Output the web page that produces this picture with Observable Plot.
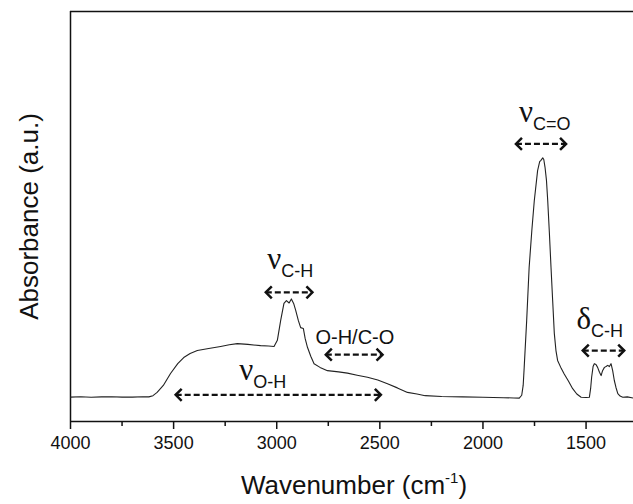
<!DOCTYPE html>
<html>
<head>
<meta charset="utf-8">
<script src="https://cdn.jsdelivr.net/npm/d3@7"></script>
<script src="https://cdn.jsdelivr.net/npm/@observablehq/plot@0.6"></script>
<style>
  html, body { margin: 0; padding: 0; background: #fff; }
  #chart { width: 633px; height: 504px; }
</style>
</head>
<body>
<div id="chart"></div>
<script>
// FTIR spectrum
const wavenumber = [4000, 3950, 3900, 3850, 3800, 3750, 3700, 3650, 3620, 3600, 3580, 3550, 3515, 3480, 3451, 3420, 3385, 3330, 3272, 3230, 3191, 3140, 3078, 3040, 3013, 2997, 2981, 2965, 2953, 2940, 2929, 2918, 2908, 2895, 2884, 2871, 2862, 2851, 2835, 2819, 2790, 2754, 2700, 2657, 2610, 2560, 2510, 2463, 2415, 2366, 2320, 2280, 2200, 2100, 2000, 1950, 1900, 1850, 1824, 1812, 1805, 1800, 1788, 1776, 1763, 1751, 1735, 1725, 1719, 1710, 1705, 1699, 1692, 1686, 1678, 1670, 1662, 1654, 1646, 1638, 1620, 1606, 1585, 1565, 1545, 1524, 1500, 1484, 1478, 1473, 1466, 1460, 1452, 1444, 1435, 1427, 1420, 1411, 1403, 1395, 1387, 1379, 1371, 1363, 1355, 1346, 1335, 1322, 1300, 1270];
const absorbance = [5.95, 6.05, 5.9, 6.0, 6.05, 5.95, 5.95, 6.05, 6.0, 6.3, 7.1, 8.8, 11.7, 14.1, 15.6, 16.6, 17.3, 17.8, 18.3, 18.7, 19.0, 18.8, 18.5, 18.4, 18.3, 19.8, 24.6, 28.8, 29.5, 28.9, 29.9, 28.8, 27.1, 24.6, 22.9, 22.7, 20.2, 18.1, 15.9, 14.1, 13.2, 12.4, 12.1, 11.8, 11.3, 10.8, 10.1, 9.2, 8.2, 7.1, 6.7, 6.3, 6.1, 6.0, 5.9, 5.85, 5.8, 5.75, 5.7, 6.4, 8.8, 13.2, 24.6, 37.6, 46.6, 53.9, 61.2, 63.4, 63.7, 64.3, 63.9, 62.0, 58.8, 53.9, 46.1, 37.6, 29.5, 21.5, 17.3, 14.9, 12.9, 11.6, 9.8, 8.0, 6.7, 5.9, 5.85, 5.9, 8.0, 10.8, 13.4, 14.1, 13.9, 13.2, 12.0, 11.2, 12.4, 13.2, 13.4, 13.7, 13.4, 14.1, 12.4, 10.0, 8.3, 6.8, 6.2, 5.9, 6.0, 5.7];

// band assignments
const bandGreek = ["ν", "ν", "ν", "δ"];
const bandSub = ["O-H", "C-H", "C=O", "C-H"];
const bandLabelWn = [3114, 2978, 1757, 1476];
const bandLabelAbs = [8.05, 35.2, 71.0, 20.5];

const otherLabel = ["O-H/C-O"];
const otherLabelWn = [2621];
const otherLabelAbs = [19.0];

// double-headed range arrows
const rangeFrom = [3490, 3053, 2762, 1840, 1516];
const rangeTo = [2495, 2827, 2487, 1597, 1315];
const rangeAbs = [6.5, 31.5, 16.3, 67.7, 17.3];

const xMajorTicks = [4000, 3500, 3000, 2500, 2000, 1500];
const xMinorTicks = [3750, 3250, 2750, 2250, 1750];

const spectrum = wavenumber.map((w, i) => ({w, a: absorbance[i]}));
const bands = bandGreek.map((g, i) => ({g, s: bandSub[i], w: bandLabelWn[i], a: bandLabelAbs[i]}));
const others = otherLabel.map((t, i) => ({t, w: otherLabelWn[i], a: otherLabelAbs[i]}));
const ranges = rangeFrom.map((f, i) => ({x1: f, x2: rangeTo[i], y: rangeAbs[i]}));

const chevronRight = {draw(ctx) { ctx.moveTo(-6, -6); ctx.lineTo(0, 0); ctx.lineTo(-6, 6); }};
const chevronLeft = {draw(ctx) { ctx.moveTo(6, -6); ctx.lineTo(0, 0); ctx.lineTo(6, 6); }};

const ink = "#111";
const sans = "'Liberation Sans', Arial, Helvetica, sans-serif";
const serif = "'Liberation Serif', 'Times New Roman', serif";

const chart = Plot.plot({
  width: 633,
  height: 504,
  marginLeft: 70,
  marginRight: 0,
  marginTop: 11,
  marginBottom: 83,
  style: {fontFamily: sans, background: "#fff", color: ink, overflow: "visible"},
  x: {domain: [4000, 1270]},
  y: {domain: [0, 100], axis: null},
  marks: [
    Plot.axisX({ticks: xMajorTicks, tickSize: 8, tickPadding: 7, fontSize: 18, label: null, tickFormat: d => String(d), strokeWidth: 1.5}),
    Plot.axisX({ticks: xMinorTicks, tickSize: 5, tickFormat: () => "", label: null, strokeWidth: 1.5}),
    Plot.ruleY([0], {stroke: ink, strokeWidth: 1.5}),
    Plot.ruleY([100], {stroke: ink, strokeWidth: 1.5}),
    Plot.ruleX([4000], {stroke: ink, strokeWidth: 1.5}),
    Plot.line(spectrum, {x: "w", y: "a", stroke: "#222", strokeWidth: 1.1, curve: "linear"}),
    Plot.link(ranges, {x1: "x1", x2: "x2", y1: "y", y2: "y", stroke: ink, strokeWidth: 2.3, strokeDasharray: "6,3"}),
    Plot.dot(ranges, {x: "x1", y: "y", symbol: chevronLeft, fill: "none", stroke: ink, strokeWidth: 2.5}),
    Plot.dot(ranges, {x: "x2", y: "y", symbol: chevronRight, fill: "none", stroke: ink, strokeWidth: 2.5}),
    Plot.text(bands, {x: "w", y: "a", text: "g", textAnchor: "end", lineAnchor: "bottom", dy: -8, fontSize: 31, fontFamily: serif, fill: ink}),
    Plot.text(bands, {x: "w", y: "a", text: "s", textAnchor: "start", lineAnchor: "bottom", fontSize: 18, fontFamily: sans, fill: ink}),
    Plot.text(others, {x: "w", y: "a", text: "t", lineAnchor: "bottom", fontSize: 20, fontFamily: sans, fill: ink}),
    Plot.text(["Absorbance (a.u.)"], {frameAnchor: "left", textAnchor: "middle", dx: -41, rotate: -90, fontSize: 26, fill: ink}),
    Plot.text(["Wavenumber (cm"], {frameAnchor: "bottom", textAnchor: "middle", dy: 72, dx: 2, lineAnchor: "bottom", fontSize: 26, fill: ink})
  ]
});

// add the superscript to the x-axis title
d3.select(chart).selectAll("text").each(function() {
  if (this.textContent === "Wavenumber (cm") {
    const t = d3.select(this);
    t.append("tspan").attr("dy", -11).attr("font-size", 15).text("-1");
    t.append("tspan").attr("dy", 11).text(")");
  }
});

document.getElementById("chart").appendChild(chart);
</script>
</body>
</html>
